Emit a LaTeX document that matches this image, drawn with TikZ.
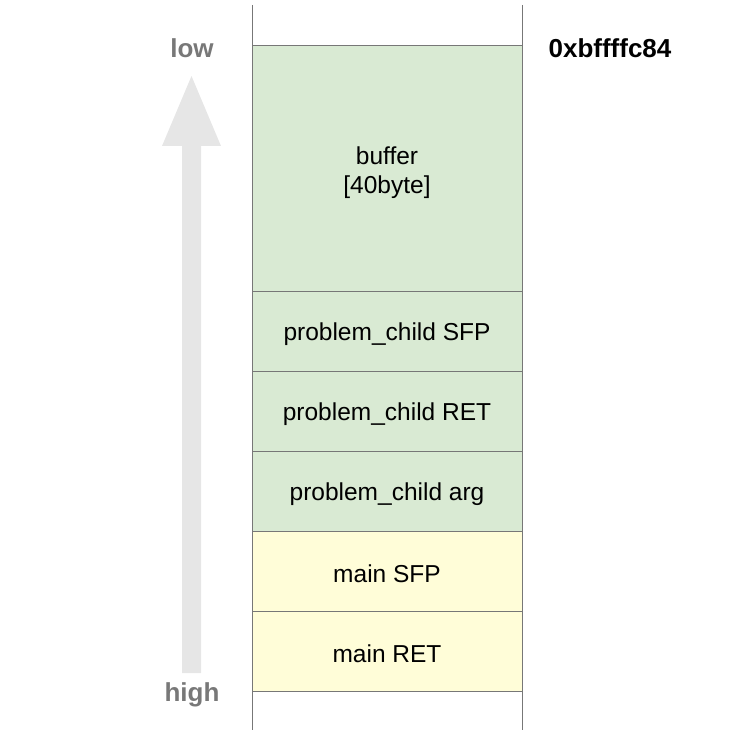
\documentclass[tikz,border=0pt]{standalone}
\usepackage{fontspec}
\setmainfont{Liberation Sans}
\definecolor{boxline}{HTML}{777777}
\definecolor{grn}{HTML}{D9EAD3}
\definecolor{ylw}{HTML}{FFFDD8}
\definecolor{arr}{HTML}{E6E6E6}
\definecolor{lbl}{HTML}{787878}
\begin{document}
\begin{tikzpicture}[x=1pt,y=-1pt,
  cell/.style={draw=boxline,line width=1pt},
  celltext/.style={font=\fontsize{24.5}{29}\selectfont,align=center,text=black},
  sidelbl/.style={font=\fontsize{26}{30}\selectfont\bfseries,text=lbl},
  addr/.style={font=\fontsize{26}{30}\selectfont\bfseries,text=black}]
\useasboundingbox (0,0) rectangle (734,735);
% cells
\filldraw[cell,fill=grn] (252,46) rectangle (522,291);
\filldraw[cell,fill=grn] (252,291) rectangle (522,371);
\filldraw[cell,fill=grn] (252,371) rectangle (522,451);
\filldraw[cell,fill=grn] (252,451) rectangle (522,531);
\filldraw[cell,fill=ylw] (252,531) rectangle (522,611);
\filldraw[cell,fill=ylw] (252,611) rectangle (522,691);
\draw[cell] (252,5) -- (252,730);
\draw[cell] (522,5) -- (522,730);
% texts
\node[celltext] (buf) at (387,173) {buffer\\{}[40byte]};
\node[celltext] (sfp) at (387,334) {problem\_child SFP};
\node[celltext] (ret) at (387,414) {problem\_child RET};
\node[celltext] (arg) at (387,494) {problem\_child arg};
\node[celltext] (msfp) at (387,574) {main SFP};
\node[celltext] (mret) at (387,654) {main RET};
% arrow
\fill[arr] (182,673) -- (201,673) -- (201,146) -- (221,146) -- (191.5,76) -- (162,146) -- (182,146) -- cycle;
\node[sidelbl] (low) at (192,48.5) {low};
\node[sidelbl] (high) at (192,695) {high};
\node[addr] (ad) at (610,48.5) {0xbffffc84};
\end{tikzpicture}
\end{document}
